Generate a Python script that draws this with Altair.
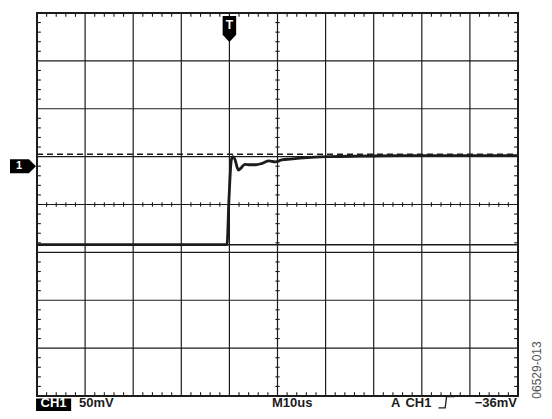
import altair as alt
import pandas as pd

# ---- data (x in divisions, y in divisions) ----
trace_x = [0, 3.95, 3.99, 4.04, 4.07, 4.12, 4.16, 4.19, 4.24, 4.32, 4.43, 4.55,
           4.68, 4.82, 4.95, 5.09, 5.26, 5.47, 5.78, 6.09, 6.72, 7.55, 8.59, 10]
trace_y = [-0.84, -0.84, 0.09, 0.93, 1.00, 0.93, 0.78, 0.72, 0.76, 0.84, 0.83, 0.83,
           0.86, 0.91, 0.89, 0.93, 0.95, 0.97, 0.99, 1.00, 1.01, 1.02, 1.02, 1.02]
grid_x = [1, 2, 3, 4, 5, 6, 7, 8, 9]
grid_y = [-3, -2, -1, 0, 1, 2, 3]
minor_x = [round(i * 0.2, 2) for i in range(51) if i % 5]
minor_y = [round(-4 + i * 0.2, 2) for i in range(41) if i % 5]
dash_level = 1.05
ground_level = -0.84
trigger_x = 4.0
ch1_marker_y = 0.80

INK = "#1c1c1c"
FONT = "Liberation Sans"
XS = alt.Scale(domain=[0, 10], nice=False, zero=False)
YS = alt.Scale(domain=[-4, 4], nice=False, zero=False)
TXT_Y = -4.23
TXT_SIZE = 13


def X(f):
    return alt.X(f, type="quantitative", scale=XS, axis=None)


def Y(f):
    return alt.Y(f, type="quantitative", scale=YS, axis=None)


# grid
vgrid = pd.DataFrame({"x": grid_x, "y0": -4, "y1": 4})
hgrid = pd.DataFrame({"y": grid_y, "x0": 0, "x1": 10})
grid_v = alt.Chart(vgrid).mark_rule(color=INK, strokeWidth=1.2).encode(x=X("x"), y=Y("y0"), y2="y1")
grid_h = alt.Chart(hgrid).mark_rule(color=INK, strokeWidth=1.2).encode(y=Y("y"), x=X("x0"), x2="x1")

# minor ticks
tl = 0.08
rows_v = []
for mx in minor_x:
    rows_v.append({"x": mx, "y0": 4, "y1": 4 - tl})
    rows_v.append({"x": mx, "y0": -4, "y1": -4 + tl})
    rows_v.append({"x": mx, "y0": -0.045, "y1": 0.045})
rows_h = []
for my in minor_y:
    rows_h.append({"y": my, "x0": 0, "x1": tl})
    rows_h.append({"y": my, "x0": 10, "x1": 10 - tl})
    rows_h.append({"y": my, "x0": 4.955, "x1": 5.045})
ticks_v = alt.Chart(pd.DataFrame(rows_v)).mark_rule(color=INK, strokeWidth=1.1).encode(
    x=X("x"), y=Y("y0"), y2="y1")
ticks_h = alt.Chart(pd.DataFrame(rows_h)).mark_rule(color=INK, strokeWidth=1.1).encode(
    y=Y("y"), x=X("x0"), x2="x1")

# border
border = alt.Chart(pd.DataFrame({"x0": [0], "x1": [10], "y0": [-4], "y1": [4]})).mark_rect(
    filled=False, stroke=INK, strokeWidth=2).encode(x=X("x0"), x2="x1", y=Y("y0"), y2="y1")

# reference lines
dashed = alt.Chart(pd.DataFrame({"y": [dash_level], "x0": [0], "x1": [10]})).mark_rule(
    color=INK, strokeWidth=1.3, strokeDash=[6, 4]).encode(y=Y("y"), x=X("x0"), x2="x1")
ground = alt.Chart(pd.DataFrame({"y": [ground_level], "x0": [0], "x1": [10]})).mark_rule(
    color=INK, strokeWidth=1.6).encode(y=Y("y"), x=X("x0"), x2="x1")

# trace
trace = alt.Chart(pd.DataFrame({"t": trace_x, "v": trace_y})).mark_line(
    color=INK, strokeWidth=2.8, interpolate="monotone").encode(x=X("t"), y=Y("v"))

# trigger marker "T"
tmark = alt.Chart(pd.DataFrame({"x": [trigger_x], "y": [3.666]})).mark_point(
    shape="M-0.52,-1 L0.52,-1 L0.52,0.45 L0,1 L-0.52,0.45 Z", size=676, filled=True,
    fill="black", opacity=1, strokeWidth=0).encode(x=X("x"), y=Y("y"))
ttext = alt.Chart(pd.DataFrame({"x": [trigger_x], "y": [3.75], "s": ["T"]})).mark_text(
    color="white", font=FONT, fontWeight="bold", fontSize=12, baseline="middle", align="center").encode(
    x=X("x"), y=Y("y"), text="s")

# channel marker "1"
cmark = alt.Chart(pd.DataFrame({"x": [-0.291], "y": [ch1_marker_y]})).mark_point(
    shape="M-1,-0.54 L0.45,-0.54 L1,0 L0.45,0.54 L-1,0.54 Z", size=676, filled=True,
    fill="black", opacity=1, strokeWidth=0).encode(x=X("x"), y=Y("y"))
ctext = alt.Chart(pd.DataFrame({"x": [-0.374], "y": [ch1_marker_y], "s": ["1"]})).mark_text(
    color="white", font=FONT, fontWeight="bold", fontSize=11, baseline="middle", align="center").encode(
    x=X("x"), y=Y("y"), text="s")

# bottom readout
box = alt.Chart(pd.DataFrame({"x0": [-0.02], "x1": [0.71], "y0": [-4.05], "y1": [-4.4]})).mark_rect(
    color="black").encode(x=X("x0"), x2="x1", y=Y("y0"), y2="y1")
ch1_txt = alt.Chart(pd.DataFrame({"x": [0.343], "y": [TXT_Y], "s": ["CH1"]})).mark_text(
    color="white", font=FONT, fontWeight="bold", fontSize=TXT_SIZE, baseline="alphabetic", align="center").encode(
    x=X("x"), y=Y("y"), text="s")
left_txt = alt.Chart(pd.DataFrame({"x": [0.873, 4.886, 7.36, 7.66], "y": [TXT_Y] * 4,
                                   "s": ["50mV", "M10us", "A", "CH1"]})).mark_text(
    color=INK, font=FONT, fontWeight="bold", fontSize=TXT_SIZE, baseline="alphabetic", align="left").encode(
    x=X("x"), y=Y("y"), text="s")
right_txt = alt.Chart(pd.DataFrame({"x": [9.98], "y": [TXT_Y], "s": ["\u221236mV"]})).mark_text(
    color=INK, font=FONT, fontWeight="bold", fontSize=TXT_SIZE, baseline="alphabetic", align="right").encode(
    x=X("x"), y=Y("y"), text="s")
edge_sym = alt.Chart(pd.DataFrame({"x": [8.545], "y": [TXT_Y + 0.1]})).mark_point(
    shape="M-1,0.6 L-0.3,0.6 L-0.15,-0.6 L0.7,-0.6", size=361, filled=False,
    stroke=INK, strokeWidth=1.3, opacity=1).encode(x=X("x"), y=Y("y"))

# figure id
fig_id = alt.Chart(pd.DataFrame({"x": [10.40], "y": [-3.457], "s": ["06529-013"]})).mark_text(
    color="#555555", font=FONT, fontSize=12, angle=270, baseline="middle", align="center").encode(
    x=X("x"), y=Y("y"), text="s")

chart = alt.layer(
    grid_v, grid_h, ticks_v, ticks_h, dashed, ground, trace, border,
    tmark, ttext, cmark, ctext, box, ch1_txt, left_txt, right_txt, edge_sym, fig_id
).properties(
    width=481, height=383,
    autosize=alt.AutoSizeParams(type="none"),
    padding={"left": 29, "top": 5, "right": 26, "bottom": 15},
    background="white",
).configure_view(stroke=None)

chart.save("out.html", embed_options={"renderer": "svg", "actions": False})
